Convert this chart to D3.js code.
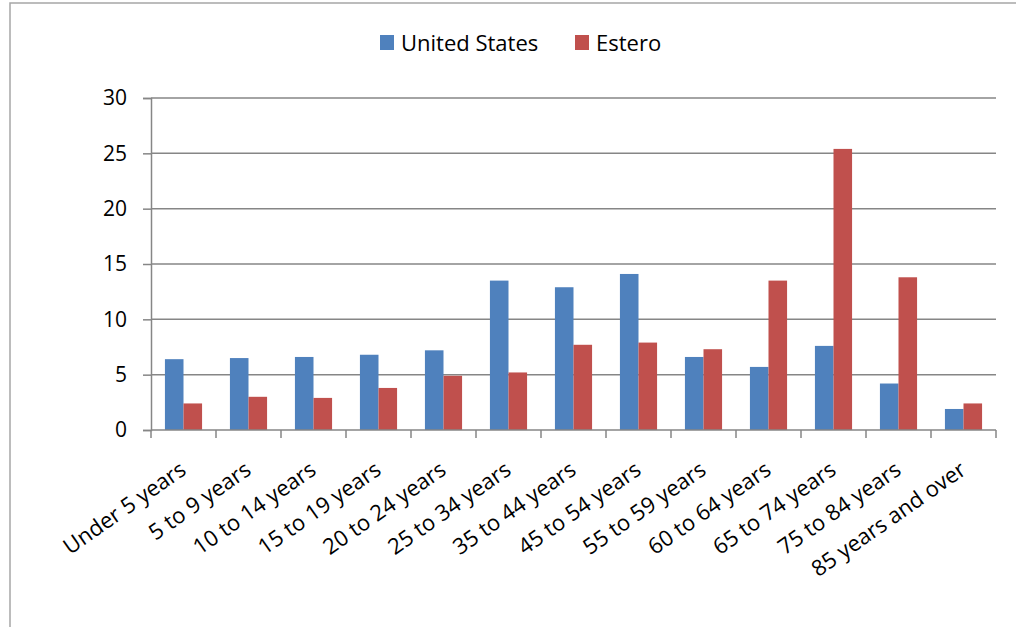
<!DOCTYPE html>
<html>
<head>
<meta charset="utf-8">
<script src="https://cdn.jsdelivr.net/npm/d3@7"></script>
<style>
  html, body { margin: 0; padding: 0; background: #fff; }
  svg { display: block; }
  text { font-family: "Open Sans", sans-serif; fill: #000; }
</style>
</head>
<body>
<svg id="chart" width="1016" height="627"></svg>
<script>
// Age groups shown along the x axis
const categories = [
  "Under 5 years", "5 to 9 years", "10 to 14 years", "15 to 19 years",
  "20 to 24 years", "25 to 34 years", "35 to 44 years", "45 to 54 years",
  "55 to 59 years", "60 to 64 years", "65 to 74 years", "75 to 84 years",
  "85 years and over"
];
// Share of population (%) in each age group
const unitedStates = [6.4, 6.5, 6.6, 6.8, 7.2, 13.5, 12.9, 14.1, 6.6, 5.7, 7.6, 4.2, 1.9];
const estero = [2.4, 3.0, 2.9, 3.8, 4.9, 5.2, 7.7, 7.9, 7.3, 13.5, 25.4, 13.8, 2.4];
const seriesNames = ["United States", "Estero"];
const yTicks = [0, 5, 10, 15, 20, 25, 30];

const colors = ["#4f81bd", "#c0504d"];
const svg = d3.select("#chart");
const FONT = "'Open Sans', sans-serif";

// Chart frame
svg.append("rect")
  .attr("x", 10).attr("y", 3)
  .attr("width", 1016).attr("height", 640)
  .attr("fill", "none").attr("stroke", "#a6a6a6").attr("stroke-width", 1.5);

const plot = { left: 151, right: 996, top: 98, bottom: 430 };

const x = d3.scaleBand().domain(categories).range([plot.left, plot.right]);
const xs = d3.scaleBand().domain(seriesNames)
  .range([0, x.bandwidth()]).paddingInner(0).paddingOuter(0.75);
const y = d3.scaleLinear().domain([0, 30]).range([plot.bottom, plot.top]);

// Horizontal gridlines
svg.append("g").selectAll("line").data(yTicks.filter(d => d > 0)).join("line")
  .attr("x1", plot.left).attr("x2", plot.right)
  .attr("y1", d => y(d)).attr("y2", d => y(d))
  .attr("stroke", "#868686").attr("stroke-width", 1.5);

// Bars
const rows = categories.map((c, i) => ({ c, vals: [unitedStates[i], estero[i]] }));
const groups = svg.append("g").selectAll("g").data(rows).join("g")
  .attr("transform", d => `translate(${x(d.c)},0)`);
groups.selectAll("rect").data(d => d.vals.map((v, k) => ({ v, k }))).join("rect")
  .attr("x", d => xs(seriesNames[d.k]))
  .attr("width", xs.bandwidth())
  .attr("y", d => y(d.v))
  .attr("height", d => y(0) - y(d.v))
  .attr("fill", d => colors[d.k]);

// Y axis
const yAxis = svg.append("g")
  .attr("transform", `translate(${plot.left},0)`)
  .call(d3.axisLeft(y).tickValues(yTicks).tickSize(8).tickPadding(16));
yAxis.select(".domain").attr("stroke", "#868686").attr("stroke-width", 1.5);
yAxis.selectAll(".tick line").attr("stroke", "#868686").attr("stroke-width", 1.5);
yAxis.selectAll(".tick text").attr("font-size", 21).attr("font-family", FONT).attr("fill", "#000");

// X axis baseline and category ticks
const xAxis = svg.append("g");
xAxis.append("line")
  .attr("x1", plot.left).attr("x2", plot.right)
  .attr("y1", y(0)).attr("y2", y(0))
  .attr("stroke", "#868686").attr("stroke-width", 1.5);
const boundaries = categories.map(c => x(c)).concat([x(categories[categories.length - 1]) + x.bandwidth()]);
xAxis.selectAll("line.tk").data(boundaries).join("line").attr("class", "tk")
  .attr("x1", d => d).attr("x2", d => d)
  .attr("y1", y(0)).attr("y2", y(0) + 8)
  .attr("stroke", "#868686").attr("stroke-width", 1.5);

// Rotated category labels
xAxis.selectAll("text").data(categories).join("text")
  .attr("transform", d => `translate(${x(d) + x.bandwidth() / 2 + 4},${y(0) + 43}) rotate(-35)`)
  .attr("text-anchor", "end")
  .attr("font-size", 22)
  .text(d => d);

// Legend
const legend = svg.append("g");
const legendItems = [
  { name: seriesNames[0], color: colors[0], x: 380 },
  { name: seriesNames[1], color: colors[1], x: 575 }
];
legend.selectAll("rect").data(legendItems).join("rect")
  .attr("x", d => d.x).attr("y", 35).attr("width", 14).attr("height", 15)
  .attr("fill", d => d.color);
legend.selectAll("text").data(legendItems).join("text")
  .attr("x", d => d.x + 21).attr("y", 51)
  .attr("font-size", 22)
  .text(d => d.name);
</script>
</body>
</html>
